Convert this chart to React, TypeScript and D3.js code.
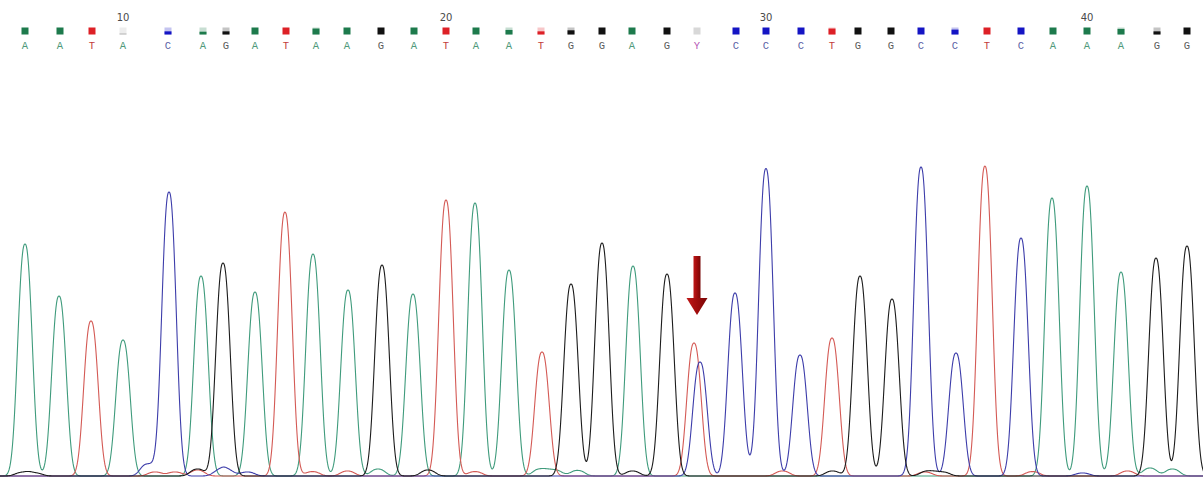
import React from 'react';
import * as d3 from 'd3';

// base calls shown in the header (first base is position 7)
const firstBase = 7;
const calls = 'AATACAGATAAGATAATGGAGYCCCTGGCCTCAAAGG'.split('');
const callScans = [
  3410, 3424, 3436.8, 3449.2, 3467.2, 3481.2, 3490.4, 3502, 3514.4, 3526.4,
  3538.8, 3552.4, 3565.6, 3578.4, 3590.4, 3603.6, 3616.4, 3628.4, 3640.8, 3652.8,
  3666.8, 3678.8, 3694.4, 3706.4, 3720.4, 3732.8, 3743.2, 3756.4, 3768.4, 3782,
  3794.8, 3808.4, 3821.2, 3834.8, 3848.4, 3862.8, 3874.8,
];
const quality = [
  1, 1, 1, 0.15, 0.45, 0.4, 0.45, 1, 1, 0.85,
  1, 1, 1, 1, 1, 0.65, 0.45, 0.6, 1, 1,
  1, 0, 1, 1, 1, 0.85, 1, 1, 1, 0.7,
  1, 1, 1, 1, 0.8, 0.45, 1,
];

// main peaks per channel: [scan, signal]
const peaksA: [number, number][] = [
  [3410, 1160], [3423.6, 900], [3449.2, 680], [3480.4, 1000], [3502, 920],
  [3525.2, 1110], [3539.2, 930], [3565.2, 910], [3590, 1365], [3603.6, 1030],
  [3653.2, 1050], [3820.8, 1390], [3834.8, 1450], [3848.4, 1020],
];
const peaksT: [number, number][] = [
  [3436.4, 775], [3514, 1305], [3578.4, 1380], [3616.8, 620], [3677.6, 665],
  [3732.8, 690], [3794, 1535],
];
const peaksC: [number, number][] = [
  [3467.6, 1420], [3680, 570], [3694, 915], [3706.4, 1535], [3720, 605],
  [3768.4, 1545], [3782.4, 615], [3808.4, 1190],
];
const peaksG: [number, number][] = [
  [3489.2, 1065], [3552.8, 1040], [3628.4, 960], [3640.8, 1165],
  [3666.8, 1010], [3744, 1000], [3756.8, 885], [3862.4, 1090], [3874.8, 1150],
];

// small background bumps near the baseline
const noiseA: [number, number][] = [
  [3551.2, 35], [3616, 35], [3622, 30], [3631, 28], [3860, 40], [3869, 35],
];
const noiseT: [number, number][] = [
  [3462, 20], [3470, 20], [3479, 30], [3513, 15], [3525, 22], [3539, 25], [3590, 22],
  [3713, 25], [3770, 20], [3792, 18], [3813, 22], [3851, 25],
];
const noiseC: [number, number][] = [
  [3459, 60], [3488, 25], [3491, 25], [3499, 20], [3701, 25], [3833, 15],
];
const noiseG: [number, number][] = [
  [3409, 18], [3414, 15], [3479, 35], [3553, 15], [3571.2, 30], [3653, 25], [3733, 25],
  [3771, 25], [3777, 20],
];

const W = 1203;
const H = 479;
// peak shape: generalised gaussian
const width = 2.8;
const power = 2.4;

const channels = [
  { base: 'A', peaks: [...peaksA, ...noiseA], color: '#3f9b7c' },
  { base: 'T', peaks: [...peaksT, ...noiseT], color: '#d45a55' },
  { base: 'C', peaks: [...peaksC, ...noiseC], color: '#3d3daa' },
  { base: 'G', peaks: [...peaksG, ...noiseG], color: '#1c1c1c' },
];

const boxColor: Record<string, string> = { A: '#1d7a4c', T: '#dd2026', C: '#1414c4', G: '#111111', Y: '#d8d8d8' };
const letterColor: Record<string, string> = { A: '#4f9a7a', T: '#c23c3c', C: '#5a5fa6', G: '#5a5a5a', Y: '#b455b4' };

const x = d3.scaleLinear().domain([3400, 3400 + W * 0.4]).range([0, W]);
const y = d3.scaleLinear().domain([0, 2000]).range([476, 76]);

const App = () => {
  const scans = d3.range(3398, 3400 + W * 0.4 + 2, 0.2);
  const line = d3.line<[number, number]>().x(d => x(d[0])).y(d => y(d[1]));

  const traces = channels.map(ch => {
    const pts: [number, number][] = scans.map(s => [
      s,
      d3.sum(ch.peaks, p => p[1] * Math.exp(-0.5 * Math.abs((s - p[0]) / width) ** power)),
    ]);
    return { ...ch, d: line(pts) };
  });

  const box = 7;
  const boxTop = 27.5;
  const yCall = calls.indexOf('Y');
  const ax = x(callScans[yCall]);

  return (
    <svg width={W} height={H} style={{ position: 'absolute', left: 0, top: 0, background: '#fff' }}>
      <defs>
        <linearGradient id="arrowGrad" x1="0" x2="1" y1="0" y2="0">
          <stop offset="0" stopColor="#c01818" />
          <stop offset="0.5" stopColor="#a00c0c" />
          <stop offset="1" stopColor="#780606" />
        </linearGradient>
      </defs>

      {calls.map((b, i) => {
        const cx = x(callScans[i]);
        const q = quality[i];
        const col = q < 0.2 ? '#b8b8b8' : boxColor[b];
        const fillH = b === 'Y' ? box : Math.max(0, q) * box;
        const num = firstBase + i;
        return (
          <g key={i}>
            {num % 10 === 0 && (
              <text x={cx} y={21} textAnchor="middle" fontFamily="'DejaVu Sans', sans-serif" fontSize={10} fill="#4a4a4a">
                {num}
              </text>
            )}
            {q < 1 && b !== 'Y' && (
              <rect x={cx - box / 2} y={boxTop} width={box} height={box} fill={d3.interpolateRgb(col, '#fff')(0.75)} />
            )}
            <rect
              x={cx - box / 2}
              y={boxTop + box - fillH}
              width={box}
              height={fillH}
              fill={b === 'Y' ? boxColor.Y : col}
            />
            <text x={cx} y={49} textAnchor="middle" fontFamily="'Liberation Mono', monospace" fontSize={10.5} fill={letterColor[b]}>
              {b}
            </text>
          </g>
        );
      })}

      {traces.map(t => (
        <path key={t.base} d={t.d ?? ''} fill="none" stroke={t.color} strokeWidth={1.1} strokeLinejoin="round" />
      ))}

      {/* arrow marking the heterozygous call */}
      <g>
        <rect x={ax - 3.5} y={256} width={7} height={44} fill="url(#arrowGrad)" />
        <path d={`M${ax - 10.5},298 L${ax + 10.5},298 L${ax},315 Z`} fill="url(#arrowGrad)" />
      </g>
    </svg>
  );
};

export default App;
